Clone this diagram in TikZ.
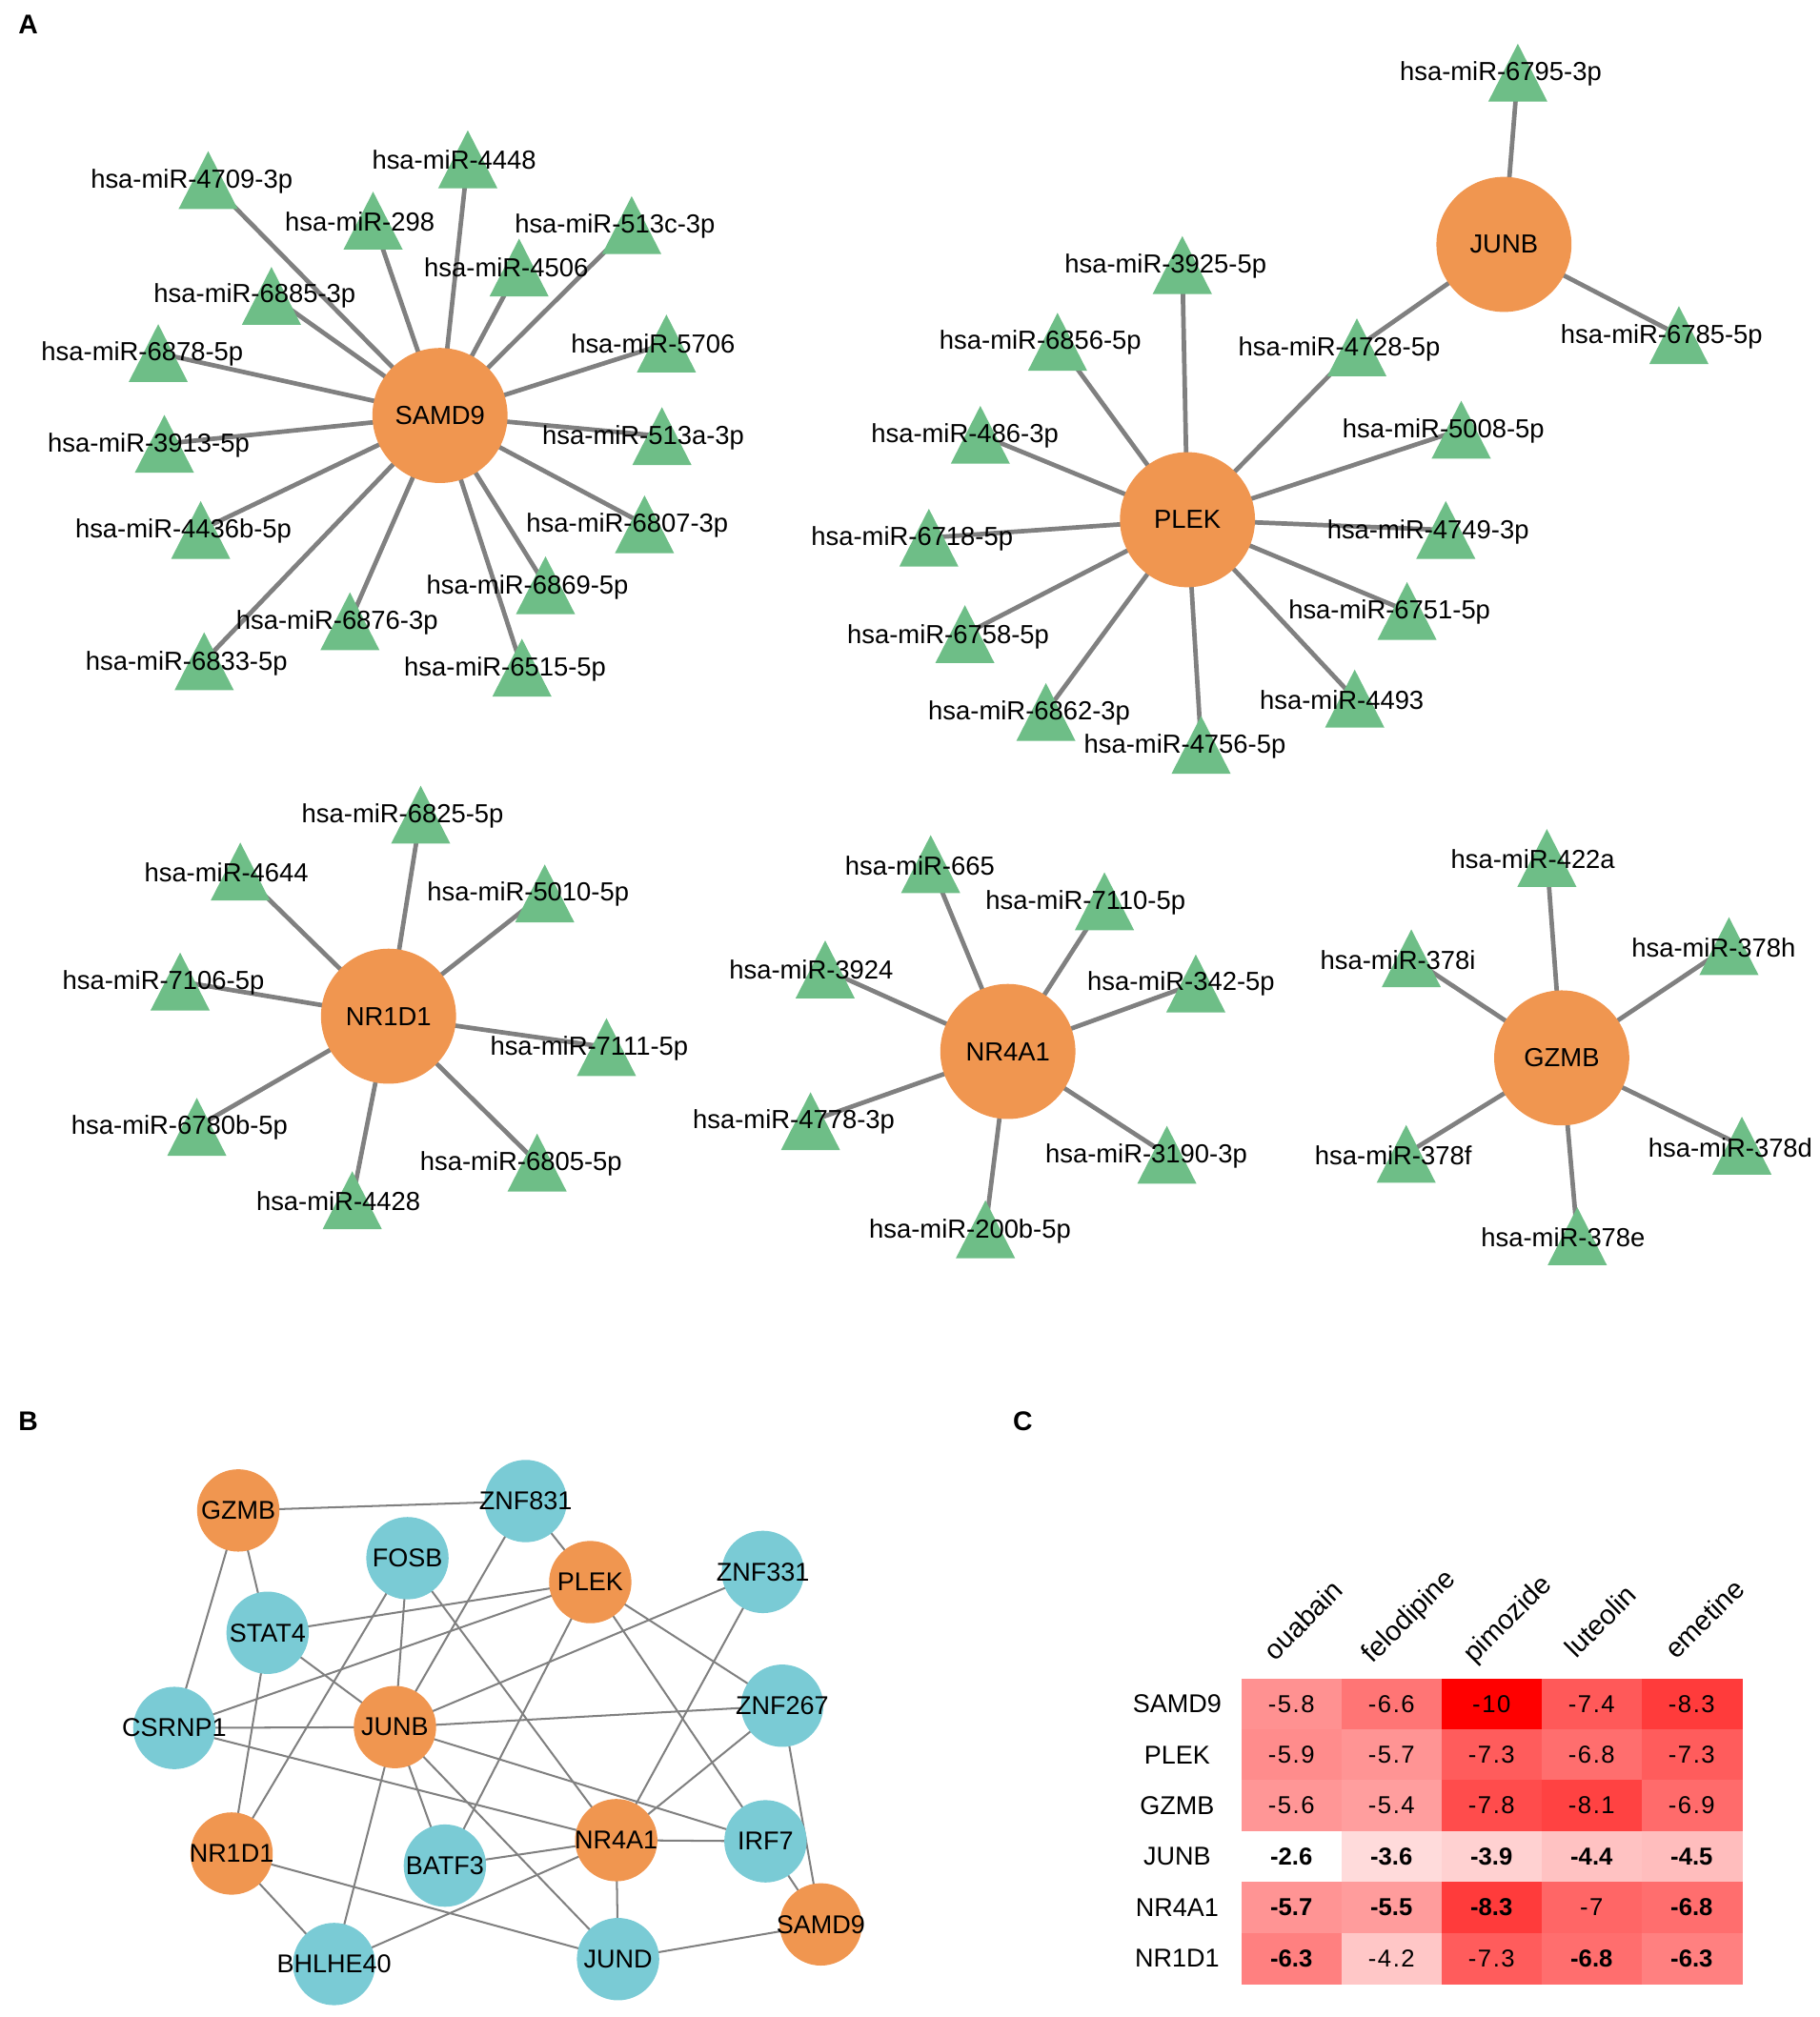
\documentclass[tikz,border=0pt]{standalone}
\usepackage{fontspec}
\setmainfont{Liberation Sans}
\newfontfamily\valfont[LetterSpace=6]{Liberation Sans}
\usetikzlibrary{calc}
\definecolor{orng}{RGB}{240,150,80}
\definecolor{grn}{RGB}{110,190,135}
\definecolor{tealc}{RGB}{122,203,213}
\definecolor{edg}{RGB}{128,128,128}
\pgfdeclarelayer{bg}\pgfdeclarelayer{fg}\pgfsetlayers{bg,main,fg}
\newcommand\fsA{\fontsize{20.3}{24}\selectfont}
\newcommand\fsB{\fontsize{20}{24}\selectfont}
\newcommand\fsCol{\fontsize{21.5}{24}\selectfont}
\newcommand\fsV{\fontsize{19}{22}\selectfont}
\newcommand\fsP{\fontsize{21}{24}\selectfont}
\newcommand\zw[1]{\makebox[0pt]{#1}}
\tikzset{
 hub/.style={circle, fill=orng, minimum size=105pt, inner sep=0pt, font=\fsA},
 mlab/.style={inner sep=0pt, font=\fsA},
 aedge/.style={draw=edg, line width=3.5pt},
 bo/.style={circle, fill=orng, minimum size=64pt, inner sep=0pt, font=\fsB},
 bt/.style={circle, fill=tealc, minimum size=64pt, inner sep=0pt, font=\fsB},
 bedge/.style={draw=edg, line width=1.5pt},
 val/.style={font=\fsV\valfont, inner sep=0pt},
 valb/.style={font=\fsV\bfseries, inner sep=0pt},
 rowlab/.style={font=\fsB, inner sep=0pt},
 collab/.style={font=\fsCol, rotate=45, anchor=base west, inner sep=0pt},
 panel/.style={font=\fsP\bfseries, inner sep=0pt}
}
\newcommand\mir[6]{%
 \fill[grn] (#2-23,#3+22.5) -- (#2+23,#3+22.5) -- (#2,#3-22.5) -- cycle;
 \coordinate (#1) at (#2,#3);
 \begin{pgfonlayer}{fg}\node[mlab] (#1l) at (#5,#6) {#4};\end{pgfonlayer}}
\newcommand\hcell[5]{%
 \fill[red!#4!white] (964.9+77.78*#2-77.78, 1304.8+39.53*#1-39.53) rectangle ++(78.3,40);
 \node[#5] (v#1#2) at (964.9+77.78*#2-38.89, 1304.8+39.53*#1-19.77) {#3};}
\begin{document}
\begin{tikzpicture}[x=1pt,y=-1pt]
\useasboundingbox (0,0) rectangle (1414,1568);
% panel letters
\node[panel] (pA) at (22,19) {A};
\node[panel] (pB) at (22,1105) {B};
\node[panel] (pC) at (795,1105) {C};

% ===== Panel A hubs =====
\node[hub] (aSAMD9) at (342,323) {SAMD9};
\node[hub] (aPLEK) at (923,404) {PLEK};
\node[hub] (aJUNB) at (1169,190) {JUNB};
\node[hub] (aNR1D1) at (302,790) {NR1D1};
\node[hub] (aNR4A1) at (783.4,817.4) {NR4A1};
\node[hub] (aGZMB) at (1213.9,822.4) {GZMB};

% SAMD9 targets
\mir{m4709}{161.8}{140}{hsa-miR-4709-3p}{149}{141}
\mir{m4448}{363.6}{123.8}{hsa-miR-4448}{353}{124.5}
\mir{m298}{290}{171.5}{hsa-miR-298}{279.7}{172}
\mir{m513c}{491}{175}{hsa-miR-513c-3p}{478}{176}
\mir{m4506}{403.5}{208}{hsa-miR-4506}{393.5}{208}
\mir{m6885}{211}{230}{hsa-miR-6885-3p}{198}{230}
\mir{m6878}{123}{274.5}{hsa-miR-6878-5p}{110.6}{275}
\mir{m5706}{518}{267}{hsa-miR-5706}{507.6}{267}
\mir{m3913}{127.8}{345}{hsa-miR-3913-5p}{115.5}{346}
\mir{m513a}{514.5}{339}{hsa-miR-513a-3p}{500}{340}
\mir{m4436}{156}{412}{hsa-miR-4436b-5p}{142.6}{412.6}
\mir{m6807}{501}{407.6}{hsa-miR-6807-3p}{487.6}{408.3}
\mir{m6869}{424}{455}{hsa-miR-6869-5p}{410}{456.4}
\mir{m6876}{272}{483}{hsa-miR-6876-3p}{262}{484}
\mir{m6833}{158.7}{514}{hsa-miR-6833-5p}{145}{515.6}
\mir{m6515}{405.7}{519}{hsa-miR-6515-5p}{392.6}{520}

% JUNB / PLEK targets
\mir{m6795}{1179.8}{56.5}{hsa-miR-6795-3p}{1166.5}{57.5}
\mir{m6785}{1305}{260.5}{hsa-miR-6785-5p}{1291.6}{261.7}
\mir{m4728}{1054.7}{270}{hsa-miR-4728-5p}{1041}{271.6}
\mir{m3925}{919}{206}{hsa-miR-3925-5p}{906}{207}
\mir{m6856}{822}{265.7}{hsa-miR-6856-5p}{808.7}{266.5}
\mir{m486}{762}{338}{hsa-miR-486-3p}{750}{339}
\mir{m5008}{1135.8}{334}{hsa-miR-5008-5p}{1122}{335}
\mir{m6718}{722}{418}{hsa-miR-6718-5p}{709}{419}
\mir{m4749}{1123.8}{412}{hsa-miR-4749-3p}{1110}{413.6}
\mir{m6758}{750}{493}{hsa-miR-6758-5p}{737}{495}
\mir{m6751}{1093.7}{475}{hsa-miR-6751-5p}{1080}{475.8}
\mir{m6862}{813}{553.5}{hsa-miR-6862-3p}{800}{554}
\mir{m4493}{1053}{543}{hsa-miR-4493}{1043}{544}
\mir{m4756}{933.6}{579}{hsa-miR-4756-5p}{921}{580}

% NR1D1 targets
\mir{m6825}{327}{633.3}{hsa-miR-6825-5p}{313}{634.5}
\mir{m4644}{186.8}{677.5}{hsa-miR-4644}{176}{678.4}
\mir{m5010}{423.4}{694.5}{hsa-miR-5010-5p}{410.5}{695.4}
\mir{m7106}{140}{763}{hsa-miR-7106-5p}{127}{764}
\mir{m7111}{471.4}{814}{hsa-miR-7111-5p}{458}{815}
\mir{m6780}{153}{876}{hsa-miR-6780b-5p}{139.6}{876.6}
\mir{m6805}{417.5}{903.8}{hsa-miR-6805-5p}{405}{904.4}
\mir{m4428}{273.8}{933}{hsa-miR-4428}{263}{933.7}

% NR4A1 targets
\mir{m3924}{641.4}{753.6}{hsa-miR-3924}{630.6}{754}
\mir{m4778}{630}{871.6}{hsa-miR-4778-3p}{617}{872}
\mir{m665}{723.4}{671.7}{hsa-miR-665}{715}{673}
\mir{m7110}{858.5}{700.6}{hsa-miR-7110-5p}{843.8}{701.8}
\mir{m342}{929.5}{764.5}{hsa-miR-342-5p}{918}{764.8}
\mir{m3190}{907}{897.7}{hsa-miR-3190-3p}{891}{898.5}
\mir{m200b}{766}{955.6}{hsa-miR-200b-5p}{754}{957}

% GZMB targets
\mir{m422a}{1202.4}{667}{hsa-miR-422a}{1191.5}{668}
\mir{m378i}{1097}{745}{hsa-miR-378i}{1086.6}{746.6}
\mir{m378h}{1343.9}{735.5}{hsa-miR-378h}{1332}{737}
\mir{m378f}{1093}{897}{hsa-miR-378f}{1083}{898.5}
\mir{m378d}{1354}{890.6}{hsa-miR-378d}{1345}{892}
\mir{m378e}{1226}{961}{hsa-miR-378e}{1215}{961.8}

\begin{pgfonlayer}{bg}
\foreach \t in {m4709,m4448,m298,m513c,m4506,m6885,m6878,m5706,m3913,m513a,m4436,m6807,m6869,m6876,m6833,m6515}
  \draw[aedge] (aSAMD9.center) -- (\t);
\foreach \t in {m3925,m6856,m486,m5008,m6718,m4749,m6758,m6751,m6862,m4493,m4756,m4728}
  \draw[aedge] (aPLEK.center) -- (\t);
\foreach \t in {m6795,m6785,m4728}
  \draw[aedge] (aJUNB.center) -- (\t);
\foreach \t in {m6825,m4644,m5010,m7106,m7111,m6780,m6805,m4428}
  \draw[aedge] (aNR1D1.center) -- (\t);
\foreach \t in {m3924,m4778,m665,m7110,m342,m3190,m200b}
  \draw[aedge] (aNR4A1.center) -- (\t);
\foreach \t in {m422a,m378i,m378h,m378f,m378d,m378e}
  \draw[aedge] (aGZMB.center) -- (\t);
\end{pgfonlayer}

% ===== Panel B =====
\node[bo] (bGZMB) at (185.2,1174.2) {\zw{GZMB}};
\node[bt] (bZNF831) at (408.6,1166.9) {\zw{ZNF831}};
\node[bt] (bFOSB) at (316.7,1211.3) {\zw{FOSB}};
\node[bo] (bPLEK) at (458.8,1229.9) {\zw{PLEK}};
\node[bt] (bZNF331) at (593,1222) {\zw{ZNF331}};
\node[bt] (bSTAT4) at (208,1269.3) {\zw{STAT4}};
\node[bt] (bZNF267) at (608,1326) {\zw{ZNF267}};
\node[bt] (bCSRNP1) at (135.5,1343.3) {\zw{CSRNP1}};
\node[bo] (bJUNB) at (307,1342.6) {\zw{JUNB}};
\node[bo] (bNR1D1) at (180,1440.9) {\zw{NR1D1}};
\node[bo] (bNR4A1) at (479,1430.5) {\zw{NR4A1}};
\node[bt] (bIRF7) at (595,1431.4) {\zw{IRF7}};
\node[bt] (bBATF3) at (345.8,1450.3) {\zw{BATF3}};
\node[bo] (bSAMD9) at (638,1496) {\zw{SAMD9}};
\node[bt] (bBHLHE40) at (259.7,1526.8) {\zw{BHLHE40}};
\node[bt] (bJUND) at (480.4,1523) {\zw{JUND}};
\begin{pgfonlayer}{bg}
\foreach \a/\b in {GZMB/ZNF831,GZMB/STAT4,GZMB/CSRNP1,ZNF831/PLEK,ZNF831/JUNB,
  FOSB/JUNB,FOSB/NR1D1,FOSB/NR4A1,PLEK/STAT4,PLEK/CSRNP1,PLEK/BATF3,PLEK/ZNF267,
  PLEK/IRF7,ZNF331/JUNB,ZNF331/NR4A1,STAT4/JUNB,STAT4/NR1D1,CSRNP1/JUNB,
  CSRNP1/NR4A1,JUNB/ZNF267,JUNB/IRF7,JUNB/BATF3,JUNB/JUND,JUNB/BHLHE40,
  ZNF267/NR4A1,ZNF267/SAMD9,NR4A1/IRF7,NR4A1/BATF3,NR4A1/BHLHE40,NR4A1/JUND,
  NR1D1/BHLHE40,NR1D1/JUND,JUND/SAMD9,IRF7/SAMD9}
  \draw[bedge] (b\a.center) -- (b\b.center);
\end{pgfonlayer}

% ===== Panel C =====
\hcell{1}{1}{-5.8}{43}{val}
\hcell{1}{2}{-6.6}{54}{val}
\hcell{1}{3}{-10}{100}{val}
\hcell{1}{4}{-7.4}{65}{val}
\hcell{1}{5}{-8.3}{77}{val}
\hcell{2}{1}{-5.9}{45}{val}
\hcell{2}{2}{-5.7}{42}{val}
\hcell{2}{3}{-7.3}{64}{val}
\hcell{2}{4}{-6.8}{57}{val}
\hcell{2}{5}{-7.3}{64}{val}
\hcell{3}{1}{-5.6}{41}{val}
\hcell{3}{2}{-5.4}{38}{val}
\hcell{3}{3}{-7.8}{70}{val}
\hcell{3}{4}{-8.1}{74}{val}
\hcell{3}{5}{-6.9}{58}{val}
\hcell{4}{1}{-2.6}{0}{valb}
\hcell{4}{2}{-3.6}{14}{valb}
\hcell{4}{3}{-3.9}{18}{valb}
\hcell{4}{4}{-4.4}{24}{valb}
\hcell{4}{5}{-4.5}{26}{valb}
\hcell{5}{1}{-5.7}{42}{valb}
\hcell{5}{2}{-5.5}{39}{valb}
\hcell{5}{3}{-8.3}{77}{valb}
\hcell{5}{4}{-7}{60}{val}
\hcell{5}{5}{-6.8}{57}{valb}
\hcell{6}{1}{-6.3}{50}{valb}
\hcell{6}{2}{-4.2}{22}{val}
\hcell{6}{3}{-7.3}{64}{val}
\hcell{6}{4}{-6.8}{57}{valb}
\hcell{6}{5}{-6.3}{50}{valb}
\node[rowlab] (r1) at (915,1324.6) {SAMD9};
\node[rowlab] (r2) at (915,1364.1) {PLEK};
\node[rowlab] (r3) at (915,1403.6) {GZMB};
\node[rowlab] (r4) at (915,1443.2) {JUNB};
\node[rowlab] (r5) at (915,1482.7) {NR4A1};
\node[rowlab] (r6) at (915,1522.2) {NR1D1};
\node[collab] (c1) at (991,1292) {ouabain};
\node[collab] (c2) at (1067,1294) {felodipine};
\node[collab] (c3) at (1146,1294) {pimozide};
\node[collab] (c4) at (1225,1290) {luteolin};
\node[collab] (c5) at (1303,1291) {emetine};
\end{tikzpicture}
\end{document}
